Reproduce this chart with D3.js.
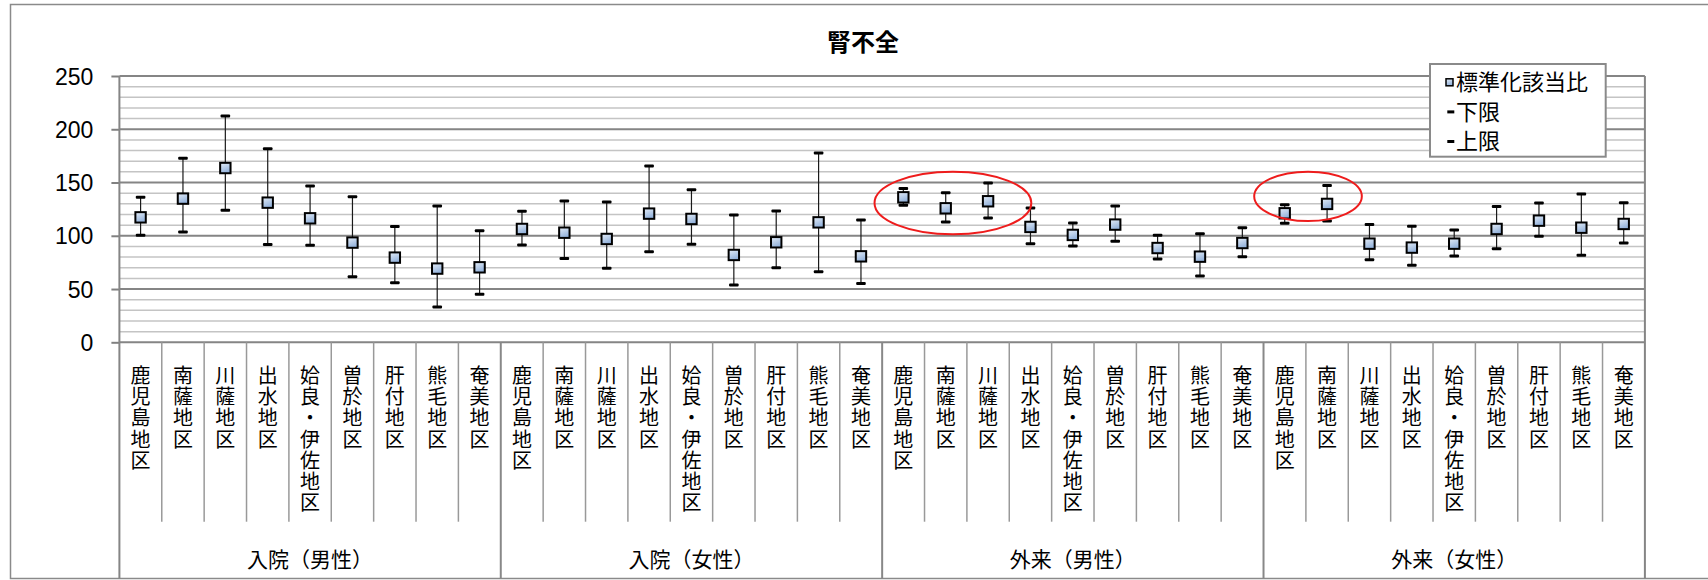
<!DOCTYPE html>
<html><head><meta charset="utf-8">
<script src="https://cdn.jsdelivr.net/npm/d3@7"></script>
<style>
html,body{margin:0;padding:0;background:#fff;}
svg{display:block;}
</style></head>
<body>
<svg id="chart" width="1708" height="580"></svg>
<script>
const title = "腎不全";
const groups = ["入院（男性）", "入院（女性）", "外来（男性）", "外来（女性）"];
const districts = ["鹿児島地区", "南薩地区", "川薩地区", "出水地区", "姶良・伊佐地区", "曽於地区", "肝付地区", "熊毛地区", "奄美地区"];
const ratio = [
  117.3, 134.9, 163.6, 131.1, 116.4, 93.6, 79.5, 69.2, 70.4,
  106.4, 102.9, 97.0, 120.8, 115.8, 82.0, 93.9, 112.6, 80.7,
  136.1, 125.8, 132.4, 108.3, 100.8, 110.5, 88.5, 80.4, 93.2,
  121.1, 129.9, 92.6, 88.9, 92.6, 106.4, 114.2, 107.6, 111.1
];
const lower = [
  100.4, 103.6, 123.9, 91.7, 91.1, 61.6, 56.0, 33.2, 45.1,
  91.4, 78.7, 69.5, 85.1, 92.0, 53.8, 70.1, 66.3, 55.1,
  128.6, 113.0, 116.7, 92.6, 90.4, 94.8, 78.2, 62.3, 80.4,
  111.7, 113.9, 77.6, 72.3, 81.0, 87.9, 99.5, 81.7, 93.2
];
const upper = [
  136.1, 172.7, 212.5, 181.8, 146.7, 136.7, 108.6, 128.0, 104.8,
  123.0, 132.7, 131.7, 165.5, 143.3, 119.5, 123.3, 177.7, 114.8,
  144.3, 140.5, 149.6, 126.1, 112.0, 128.0, 100.6, 102.0, 107.6,
  129.2, 147.1, 110.5, 108.9, 105.4, 127.4, 130.8, 139.2, 131.1
];
const yTicks = [0, 50, 100, 150, 200, 250];
const legendLabels = ["標準化該当比", "下限", "上限"];
// highlighted clusters (category-index units, values)
const highlights = [
  {c: 19.67, v: 130.8, rc: 1.85, rv: 29.4},
  {c: 28.05, v: 137.0, rc: 1.27, rv: 23.2}
];

const svg = d3.select("#chart");
const L = 119.4, R = 1644.9, T = 76, B = 342.3;
const cjk = "'Noto Sans CJK JP','Noto Sans CJK SC',sans-serif";
const latin = "'Liberation Sans',Arial,sans-serif";

const rows = ratio.map((r, i) => ({i, r, lo: lower[i], hi: upper[i],
  name: districts[i % districts.length], group: groups[Math.floor(i / districts.length)]}));

const x = d3.scaleBand().domain(d3.range(rows.length)).range([L, R]).padding(0);
const xi = d3.scaleLinear().domain([0, rows.length]).range([L, R]);
const y = d3.scaleLinear().domain([0, 250]).range([B, T]);

const defs = svg.append("defs");
const grad = defs.append("linearGradient").attr("id", "mk").attr("x1", 0).attr("y1", 0).attr("x2", 0.4).attr("y2", 1);
grad.append("stop").attr("offset", "0%").attr("stop-color", "#e6eef8");
grad.append("stop").attr("offset", "100%").attr("stop-color", "#93b2db");

// outer frame
svg.append("rect").attr("x", 10.5).attr("y", 4.5).attr("width", 1716).attr("height", 574)
  .attr("fill", "#fff").attr("stroke", "#8a8a8a").attr("stroke-width", 1.5);

// title
svg.append("text").attr("x", 863).attr("y", 51).attr("text-anchor", "middle")
  .attr("font-family", cjk).attr("font-weight", "bold").attr("font-size", 24).text(title);

// minor gridlines
const minor = d3.range(10, 250, 10).filter(v => v % 50 !== 0);
svg.append("g").selectAll("line").data(minor).join("line")
  .attr("x1", L).attr("x2", R).attr("y1", d => y(d)).attr("y2", d => y(d))
  .attr("stroke", "#c4c4c4").attr("stroke-width", 1.5);

// y axis with major gridlines
const yAxis = svg.append("g").attr("transform", `translate(${L},0)`)
  .call(d3.axisLeft(y).tickValues(yTicks).tickSize(8).tickPadding(18).tickFormat(d3.format("d")));
yAxis.select(".domain").remove();
yAxis.selectAll(".tick line").attr("stroke", "#808080").attr("stroke-width", 2);
yAxis.selectAll(".tick text").attr("font-family", latin).attr("font-size", 23).attr("fill", "#000").attr("dy", "0.35em");
svg.append("g").selectAll("line").data(yTicks).join("line")
  .attr("x1", L).attr("x2", R).attr("y1", d => y(d)).attr("y2", d => y(d))
  .attr("stroke", "#858585").attr("stroke-width", 2);

// plot vertical borders (left axis and right edge), continuing down to the frame
[L, R].forEach(xx => {
  svg.append("line").attr("x1", xx).attr("x2", xx).attr("y1", T).attr("y2", 578.5)
    .attr("stroke", "#858585").attr("stroke-width", 2);
});

// category separators below the axis
const seps = d3.range(1, rows.length);
svg.append("g").selectAll("line").data(seps).join("line")
  .attr("x1", d => xi(d)).attr("x2", d => xi(d))
  .attr("y1", B)
  .attr("y2", d => d % 9 === 0 ? 578.5 : 521.7)
  .attr("stroke", d => d % 9 === 0 ? "#888" : "#999")
  .attr("stroke-width", d => d % 9 === 0 ? 2 : 1.5);

// category labels: one stacked character per text, vertical writing mode
const chars = rows.flatMap(d => Array.from(d.name).map((ch, k) => ({ch, k, i: d.i})));
svg.append("g").selectAll("text").data(chars).join("text")
  .attr("x", d => x(d.i) + x.bandwidth() / 2)
  .attr("y", d => 365.5 + d.k * 21.2)
  .attr("font-family", cjk).attr("font-size", 20)
  .style("writing-mode", "vertical-rl")
  .style("text-orientation", "upright")
  .text(d => d.ch);

// group labels
svg.append("g").selectAll("text").data(groups).join("text")
  .attr("x", (d, k) => xi(k * 9 + 4.5)).attr("y", 567)
  .attr("text-anchor", "middle").attr("font-family", cjk).attr("font-size", 21).text(d => d);

// error bars
const eb = svg.append("g");
eb.selectAll("line.v").data(rows).join("line").attr("class", "v")
  .attr("x1", d => x(d.i) + x.bandwidth() / 2).attr("x2", d => x(d.i) + x.bandwidth() / 2)
  .attr("y1", d => y(d.lo)).attr("y2", d => y(d.hi))
  .attr("stroke", "#1a1a1a").attr("stroke-width", 1.2);
["lo", "hi"].forEach(k => {
  eb.selectAll("rect." + k).data(rows).join("rect").attr("class", k)
    .attr("x", d => x(d.i) + x.bandwidth() / 2 - 4.8).attr("y", d => y(d[k]) - 1.5)
    .attr("width", 9.6).attr("height", 3).attr("rx", 1).attr("fill", "#000");
});

// markers
svg.append("g").selectAll("rect").data(rows).join("rect")
  .attr("x", d => x(d.i) + x.bandwidth() / 2 - 5.2).attr("y", d => y(d.r) - 5.2)
  .attr("width", 10.4).attr("height", 10.4)
  .attr("fill", "url(#mk)").attr("stroke", "#000").attr("stroke-width", 2);

// highlight ellipses
const ky = (y(0) - y(1));
const kx = (xi(1) - xi(0));
svg.append("g").selectAll("ellipse").data(highlights).join("ellipse")
  .attr("cx", d => xi(d.c)).attr("cy", d => y(d.v))
  .attr("rx", d => d.rc * kx).attr("ry", d => d.rv * ky)
  .attr("fill", "none").attr("stroke", "#ee1c1c").attr("stroke-width", 2);

// legend
const lg = svg.append("g");
lg.append("rect").attr("x", 1430).attr("y", 64).attr("width", 175.7).attr("height", 92.7)
  .attr("fill", "#fff").attr("stroke", "#8a8a8a").attr("stroke-width", 2);
legendLabels.forEach((s, k) => {
  const cy = 82.3 + k * 29.6;
  if (k === 0) {
    lg.append("rect").attr("x", 1446).attr("y", cy - 3.5).attr("width", 7).attr("height", 7)
      .attr("fill", "url(#mk)").attr("stroke", "#000").attr("stroke-width", 1.5);
  } else {
    lg.append("rect").attr("x", 1447.3).attr("y", cy - 1.5).attr("width", 7).attr("height", 3).attr("fill", "#000");
  }
  lg.append("text").attr("x", 1456).attr("y", cy + 7.8).attr("font-family", cjk).attr("font-size", 22).text(s);
});
</script>
</body></html>
